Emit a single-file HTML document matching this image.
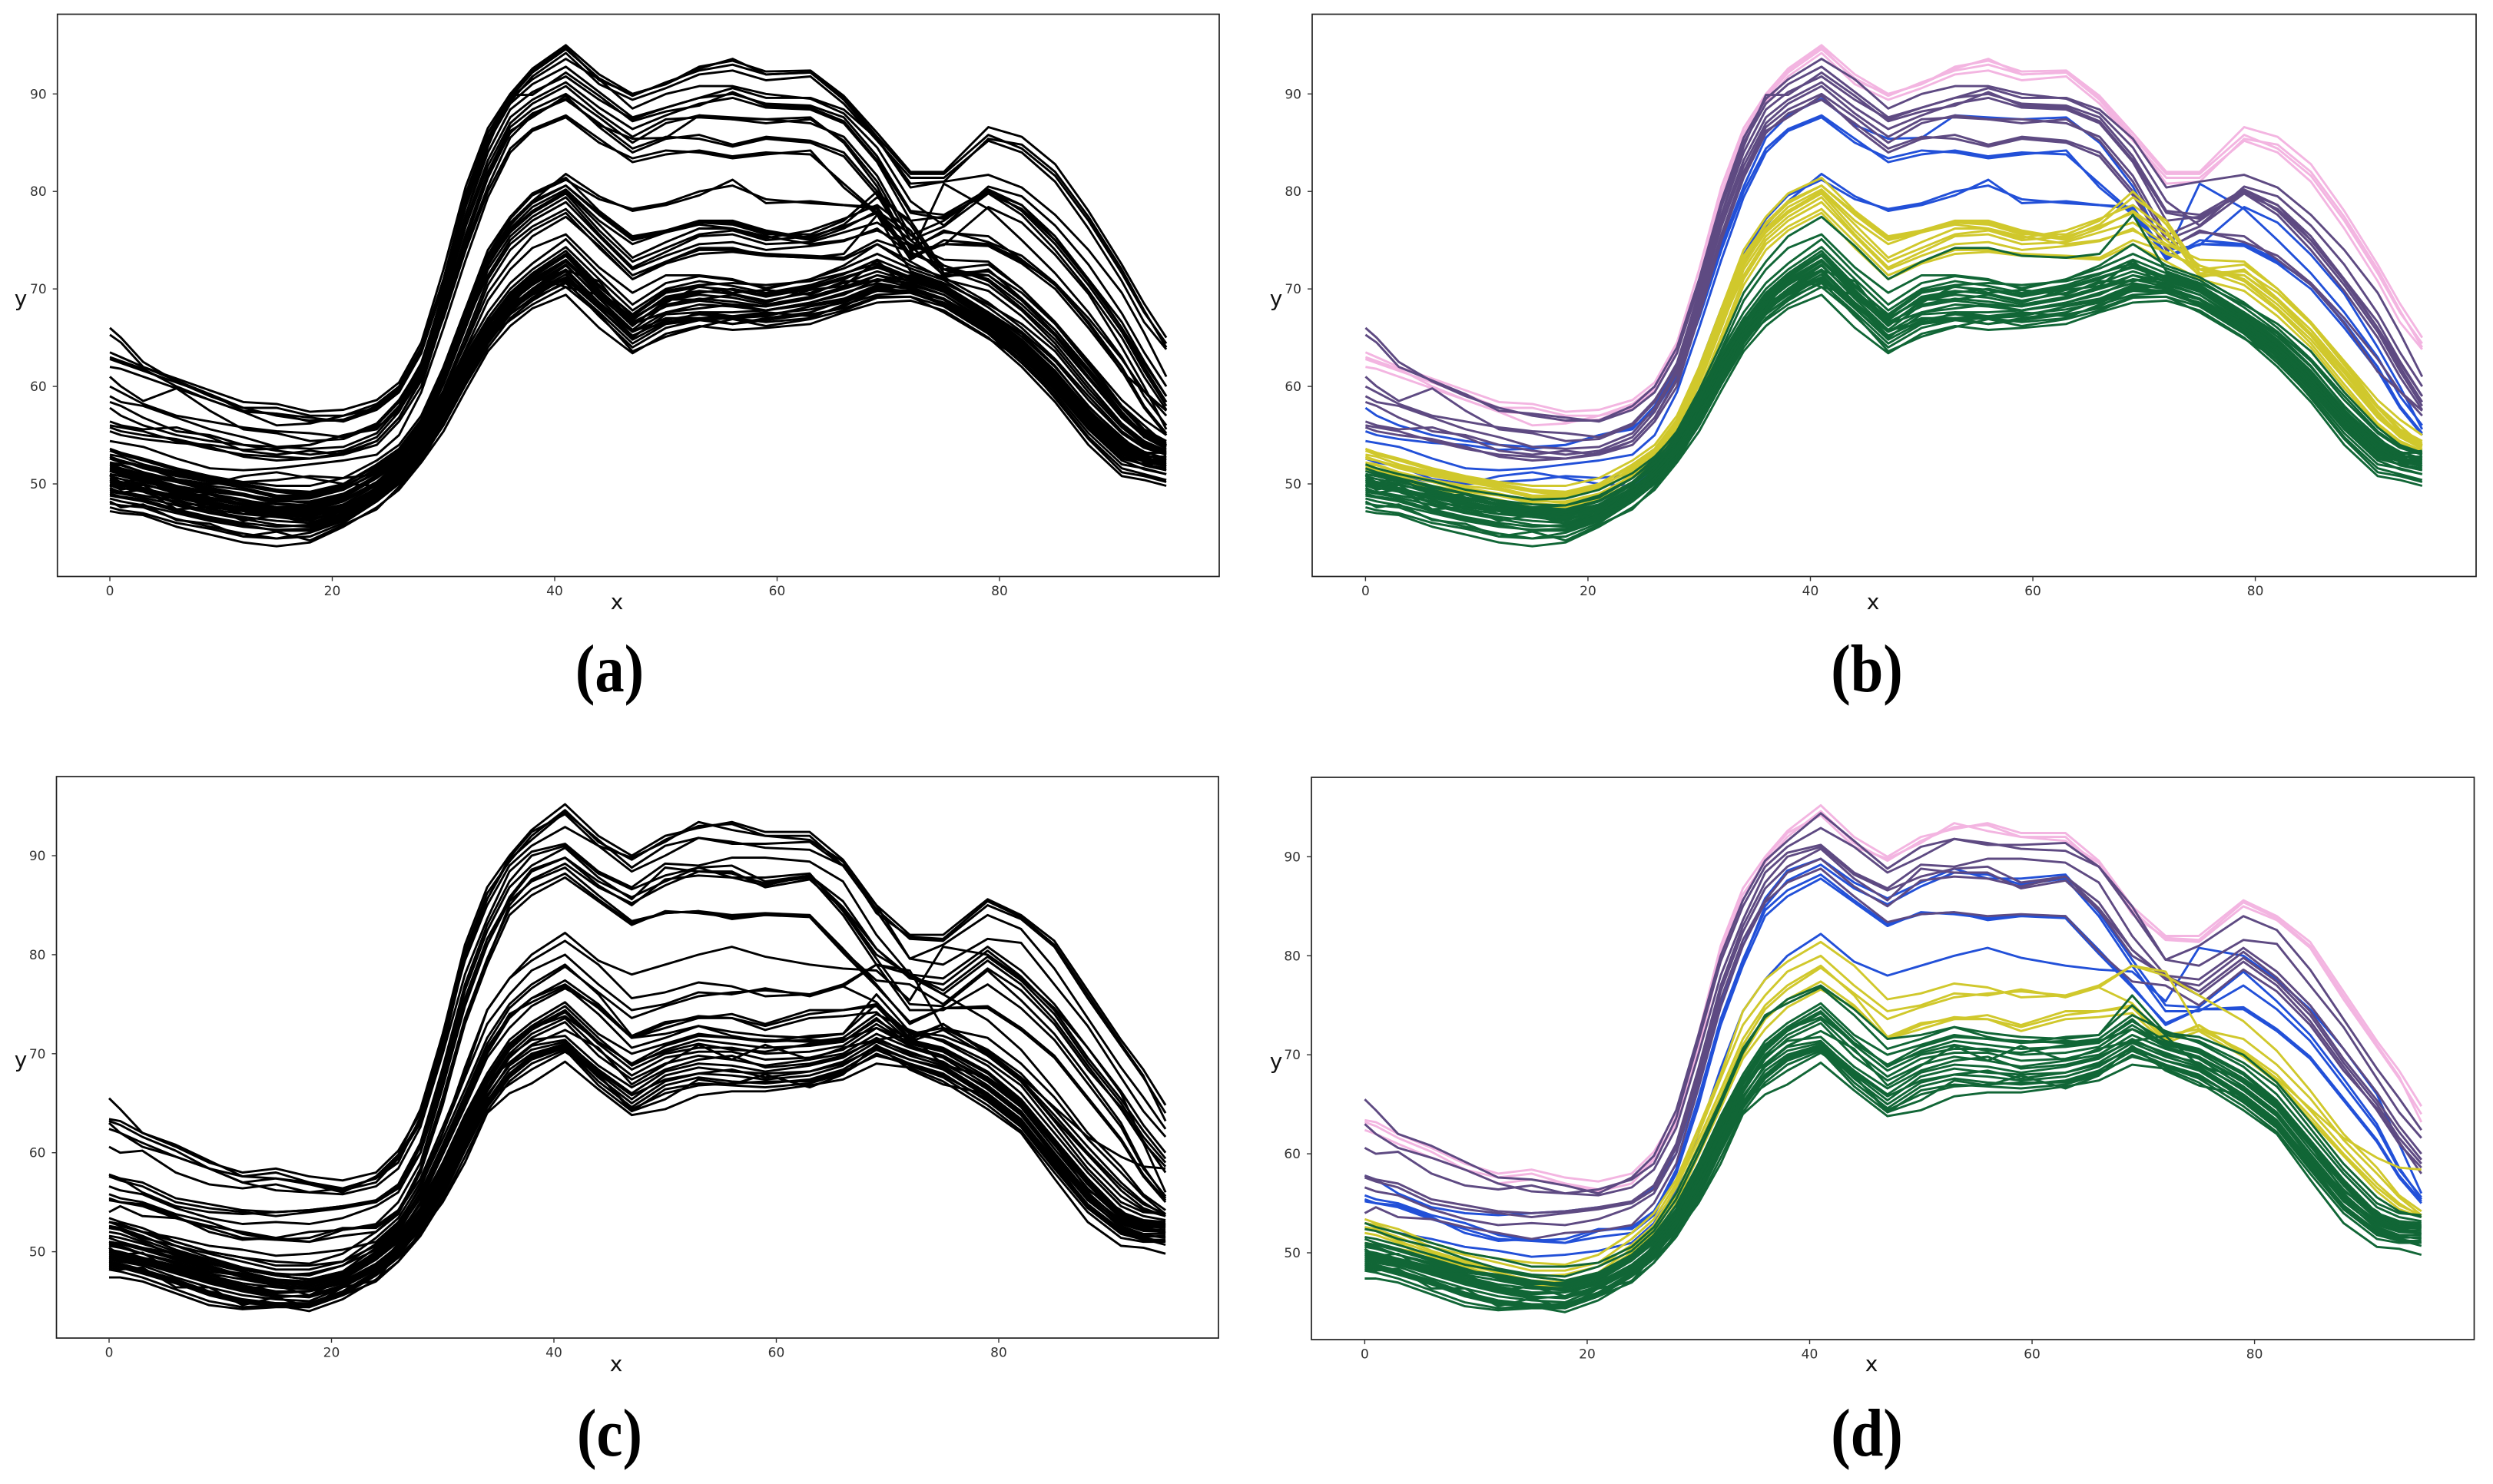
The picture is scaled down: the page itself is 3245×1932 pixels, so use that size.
<!DOCTYPE html>
<html lang="en">
<head>
<meta charset="utf-8">
<title>Clustered time series panels</title>
<style>
html,body{margin:0;padding:0;background:#fff;}
svg{display:block;}
.tick{font-family:"DejaVu Sans","Liberation Sans",sans-serif;font-size:17px;fill:#333;}
.axis-title{font-family:"DejaVu Sans","Liberation Sans",sans-serif;font-size:28px;fill:#111;}
.caption{font-family:"Liberation Serif",serif;font-weight:bold;font-size:88px;fill:#000;text-anchor:middle;}
</style>
</head>
<body>
<svg id="figure" xmlns="http://www.w3.org/2000/svg" width="3245" height="1932" viewBox="0 0 3245 1932">
<rect width="3245" height="1932" fill="#fff"/>
<g id="panel-a"></g>
<g id="panel-b"></g>
<g id="panel-c"></g>
<g id="panel-d"></g>
<text class="caption" transform="translate(793.5,900) scale(.87,1)">(a)</text>
<text class="caption" transform="translate(2430,900) scale(.87,1)">(b)</text>
<text class="caption" transform="translate(793.5,1895) scale(.87,1)">(c)</text>
<text class="caption" transform="translate(2430,1895) scale(.87,1)">(d)</text>
</svg>
<script>
const xValues=[0,1,3,6,9,12,15,18,21,24,26,28,30,32,34,36,38,41,44,47,50,53,56,59,63,66,69,72,75,79,82,85,88,91,93,95];
const xTickValues=[0,20,40,60,80];
const yTickValues=[50,60,70,80,90];

const pinkTop=[
[63.5,63,62,60.8,59.6,58.4,58.2,57.4,57.6,58.6,60.4,64.5,72,80.5,86.5,90,92.6,95,92,90,91,92.8,93.4,92.3,92.4,89.8,86,82,82,86.6,85.6,82.8,78,72.5,68.5,65],
[62.8,62.4,61.6,60.4,59.2,57.8,57.8,57,57,58.2,60,64,71,79.5,86,89.6,92.2,94.6,91.6,89.8,91.2,92.4,93,92,92.2,89.6,85.6,81.8,81.8,85.8,84.4,81.6,77,71.6,67.6,64.4],
[62,61.8,61,59.8,58.6,57.4,57.2,56.4,56.6,57.8,59.6,63.4,70.4,79,85.4,89.2,91.8,94.2,91,89.4,90.6,92,92.4,91.4,91.8,89,85.2,81.4,81.4,85.2,84,81,76.2,70.8,66.6,63.8],
[63,62.6,61.8,60,58.6,57.4,56,56.2,57,57.8,59.8,63.8,71,79.8,86,89.8,92.4,94.8,91.4,90,91,92.6,93.6,92,92.2,89.4,85.4,80.8,81,85.4,84.8,82,77.4,72,67.8,64]
];
const blueTop=[
[57.8,57,56,55,54.4,54,53.8,54,55,55.6,58,62,67.5,74.5,80.5,85.5,87.8,89.5,86.8,85.4,85.5,87.8,87.6,87.4,87.6,85,80.5,74,74.5,78.4,76.8,73.5,69.5,64,60,55.6],
[55.4,55,54.6,54.2,54,53.5,53.6,54,55,55.8,57.5,61,67,74,80,84.4,86.4,87.8,85.4,83,83.8,84.2,83.6,84,83.8,80.8,77.8,73.2,74.6,74.6,72.8,70.6,66.4,62,58,55.2],
[54.4,54.2,53.8,52.6,51.6,51.4,51.6,52,52.4,53,55,59.4,66,73,79.4,84,86.2,87.6,85,83.4,84.2,84,83.4,83.8,84.2,80.4,77.6,73.4,74.6,74.4,72.6,70,66,61.6,57.8,55],
[52.6,52.2,51.8,50.5,50,50.8,51.2,50.6,50,49.8,51.5,55,61,67,72.5,76.5,79,81.8,79.5,78,78.6,79.6,81.2,78.8,79,78.6,78.4,73.5,80.8,78.2,75,71.6,67.6,63,59,56],
[51.4,51,50.8,50.2,50,50.2,50.4,50.8,50.6,51,52.5,56,62,68,73.5,77.2,79.6,81.2,79.2,78.2,78.8,80,80.6,79.2,78.8,78.6,78.2,73,75,74.6,73,70.4,66.6,62,58,55]
];
const purpleTop=[
[66,65,62.5,60.5,59,57.8,57,56.5,56.5,58,60,64,71,79,85.5,89.5,91.5,93.6,91.5,88.5,90,90.8,90.8,90,89.5,88,84.5,79,76.5,80.5,79.5,76.5,72.5,67.5,63.5,60],
[65.3,64.5,62,60.6,59.2,57.5,57.2,56.8,56.4,57.6,59.4,63.4,70.4,78.4,85,89,91,92.8,90.2,87.6,88.6,89.6,90.6,89.6,89.6,88.4,85.4,80.4,81,81.7,80.4,77.6,74,69.6,65.5,61],
[61,60,58.5,59.8,57.5,55.6,55.2,54.4,54.6,56,58.4,62.4,69.6,77.6,84,88.4,90.2,91.8,89.4,87.4,88.6,89.6,90,89,88.8,87.6,83.6,78,77.6,80.2,78.6,75.4,71,66.6,62.6,59],
[60,59.4,58.2,57,56.4,55.8,55.4,55.2,54.8,56.2,58.6,62.2,69.8,77.6,84.6,89.9,89.9,92.2,89.8,87.2,88.2,88.8,90.2,88.8,88.6,87.2,83.2,77.8,77.2,80,78.6,75,71,66,62.4,59],
[59,58.4,58,56.8,55.6,54.8,53.8,53.6,53.8,55.2,57.8,61.8,69,77,83.2,87.6,89.4,91.2,88.6,86.4,87.8,89,89.6,88.6,88.4,87,83,77,77.4,79.8,78.2,75,70.8,66,62,58.4],
[58.4,58,56.8,55.4,55,54,53.4,53,53.4,54.8,57.4,61.4,68.6,76.4,82.6,87,89,90.8,88,85.6,87.4,87.6,87.4,87.4,87,85.6,81.6,75.5,77,80.2,78,74.6,70.4,65.6,61.6,58],
[56.4,56,55.6,55.8,54.8,53.4,53,53.4,53,54.4,56.8,60.8,68,75.6,82,86.6,88.4,90,87.6,85,87,87.8,87.4,87,87.4,85.2,81,75,76.4,79.8,77.6,74,69.8,65,61,57.6],
[56,55.8,55.4,54.4,53.6,53,52.8,52.6,53,54,56.4,60,67.2,75,81.4,86,88,89.4,87,84.4,85.6,85.4,84.6,85.4,85,83.6,79.6,74.2,75.8,75.4,73,70.4,66.5,61.5,59.5,57],
[55.8,55.4,55,54.6,53.8,52.8,52.4,52.6,53.2,54.4,56.8,60.6,67.6,75.4,81.6,86.2,87.6,89.8,86.6,84,85.4,85.8,84.8,85.6,85.2,84,80,74,76,74.8,73.4,70.6,67,62.8,59.5,57.5]
];
const yellowTop=[
[53.6,53.2,52.6,51.6,50.8,50.2,49.8,49.8,50.6,52.4,54,57,62,68,74,77.4,79.8,81.4,78,75.4,76,77,77,76,75.2,76.6,79.4,77,72,72.5,70,66.5,62.5,58,56,54],
[53,52.8,52,51.2,50.6,50,49.4,49.2,50,52,53.6,56.6,61.6,67.6,73.4,76.6,78.8,80.6,77.6,75,75.8,76.8,76.6,75.6,75.6,77,80,76.6,71.6,71.8,69.6,66.4,62.2,58,55.6,54.4],
[52.6,52.4,51.6,50.8,50.2,49.6,48.8,48.8,49.6,51.6,53.2,56.2,61,67,73,76.2,78.4,80.2,77,74.6,75.8,76.6,76.2,75.2,76,77.2,78.6,76,71.2,72,69,65.8,61.6,57.4,55,53.8],
[52.2,52,51.2,50.4,49.8,49.4,48.6,48.6,49.4,51.2,52.8,55.8,60.6,66.6,72.6,75.8,77.8,79.8,76,72.8,74.2,75.6,76,75,75.4,76.4,77.8,75,72.4,71,68.4,65.2,61,57,54.8,53.6],
[51.8,51.6,51,50.2,49.6,49,48.2,48.2,49,50.8,52.4,55.4,60.2,66,72,75.4,77.4,79.4,75.6,72.2,73.8,75.4,75.6,74.6,74.8,75.8,76.8,74.6,73,72.8,70,66.6,62.6,58.6,56.6,55],
[52,51.9,51.2,50.2,49.3,48.9,48.4,48,48.9,50.9,52.6,55.5,60.4,66.4,71.4,75,77,78.9,75.4,72,73.4,74.6,74.8,74,74.4,74.9,76.2,73.6,72.4,70.8,68,64.8,60.8,56.8,54.9,53.9],
[51.6,51.4,50.8,49.8,49.2,48.8,48,47.8,48.6,50.6,52.2,55,59.6,65.2,71,74.6,76.4,78.2,74.8,71.4,72.8,74,74,73.6,73.4,73.2,75,73.8,72,70.4,67.8,64.4,60.2,56.2,54.4,53.4],
[51.4,51.2,50.4,49.4,49,48.4,47.6,47.6,48.4,50.2,51.8,54.6,59.2,64.6,70.4,74,76,77.8,74.2,71,72.6,73.6,73.8,73.4,73.2,73,74.6,72.8,71,69.8,67.2,64,59.8,56,54.2,53.2],
[52.8,52.4,51.8,51,50.4,49.8,49.2,48.8,49.8,51.4,53,56,60.8,66.4,72.4,76,78,80,76.6,73.2,74.8,76.2,76.2,75.4,74.6,75,76,74.4,71.4,71.4,68.8,65.4,61.4,57.2,55.2,54],
[53.4,53,52.4,51.4,50.6,50,49.4,49,50,51.8,53.4,56.4,61.4,67.4,73,76.8,79,80.6,77.8,75.2,76,76.8,76.8,75.8,75,76.2,78,75.6,72,71.4,69,65.8,61.8,57.8,55.4,54.2]
];
const greenTop=[
[52.0,51.6,51.0,50.3,49.4,48.9,48.4,48.5,49.4,51.1,52.8,55.2,59.2,63.6,67.6,70.6,72.6,75.1,71.6,68.4,70.6,71.3,70.9,70.1,71.0,72.1,73.6,72.1,70.9,68.1,65.6,62.6,58.6,55.2,53.7,53.0],
[51.3,51.0,50.6,49.6,49.0,48.3,47.9,47.8,48.8,50.6,52.4,54.8,58.8,63.2,67.0,70.0,72.0,74.3,71.0,67.8,70.0,70.8,70.3,69.6,70.4,71.5,73.0,71.6,70.4,67.6,65.1,62.0,58.0,54.6,53.3,52.6],
[50.6,50.2,49.9,49.2,48.4,47.8,47.4,47.4,48.3,50.2,52.0,54.5,58.4,62.8,66.6,69.6,71.6,73.9,70.4,67.2,69.6,70.2,69.9,69.2,70.0,71.0,72.4,71.2,70.0,67.2,64.6,61.4,57.4,54.2,53.0,52.4],
[50.0,49.8,49.5,48.8,48.1,47.6,47.2,47.0,47.9,49.9,51.7,54.1,58.0,62.4,66.2,69.2,71.2,73.4,69.9,66.8,69.2,69.8,69.5,68.8,69.6,70.6,71.8,70.8,69.7,66.8,64.2,61.0,57.0,53.8,52.7,52.2],
[50.8,50.5,50.0,49.0,48.2,47.5,47.0,46.8,47.7,49.6,51.4,53.9,57.8,62.2,65.8,68.8,70.8,72.9,69.4,66.2,68.8,69.4,69.1,68.4,69.2,70.2,71.4,70.4,69.4,66.4,63.8,60.6,56.6,53.4,52.5,52.0],
[49.4,49.2,48.8,48.2,47.6,47.2,46.9,46.6,47.5,49.4,51.2,53.7,57.6,62.0,65.6,68.6,70.4,72.5,69.0,65.8,68.4,69.0,68.7,68.2,69.0,70.0,71.0,70.2,69.0,66.2,63.5,60.2,56.2,53.0,52.3,51.8],
[50.2,49.9,49.3,48.4,47.4,46.9,46.6,46.4,47.2,49.2,51.0,53.5,57.2,61.6,65.4,68.2,70.0,72.0,68.6,65.6,67.6,68.4,68.2,67.8,68.6,69.6,70.6,70.0,68.9,65.9,63.2,59.9,55.9,52.7,52.0,51.6],
[48.5,48.2,47.8,47.0,46.2,45.6,45.3,45.4,46.6,48.6,50.5,53.0,56.6,60.8,64.6,67.6,69.6,71.5,68.0,64.8,66.6,67.0,67.2,67.4,67.9,68.6,69.8,69.6,68.6,65.8,63.0,59.6,55.6,52.4,51.5,51.0],
[47.6,47.3,47.0,46.0,45.4,44.6,44.4,44.6,46.0,48.2,50.0,52.6,56.0,60.2,64.0,67.0,68.8,70.8,67.2,64.0,66.0,66.8,66.4,66.8,67.4,68.0,69.2,69.2,68.2,65.4,62.4,59.0,54.8,51.6,51.0,50.4],
[47.2,47.0,46.8,45.6,44.8,44.0,43.6,44.0,45.6,47.6,49.4,52.2,55.4,59.6,63.6,66.2,68.0,69.4,66.0,63.4,65.4,66.2,65.8,66.0,66.4,67.6,68.6,68.8,67.8,65.0,62.0,58.4,54.0,50.8,50.4,49.8],
[49.0,48.7,48.4,47.4,46.6,46.0,45.6,45.8,47.0,49.0,50.8,53.2,57.0,61.2,65.0,67.8,69.8,71.8,68.4,65.2,66.8,67.4,67.0,67.2,68.2,68.8,70.2,70.2,68.9,66.2,63.3,60.0,56.0,52.8,52.0,51.4],
[48.0,47.8,47.6,46.4,45.6,44.9,44.4,45.0,46.2,48.2,50.1,52.8,56.4,60.6,64.4,67.4,69.0,70.6,67.6,64.4,66.4,66.8,67.0,66.6,67.0,68.4,69.4,69.6,68.4,65.6,62.7,59.3,55.2,52.0,51.6,51.0],
[48.8,48.6,48.2,47.2,46.4,45.8,45.2,45.2,46.4,48.4,50.3,53.0,56.8,61.0,64.8,67.8,69.4,71.0,68.0,65.0,67.4,67.6,67.6,67.8,68.4,69.0,70.4,70.0,69.0,66.0,63.2,59.8,55.8,52.6,52.0,52.2],
[49.8,49.6,49.2,48.0,47.2,46.6,46.2,46.0,47.0,49.0,51.0,53.4,57.4,61.6,65.2,68.0,70.0,72.4,69.2,66.4,67.6,68.0,68.4,67.8,68.6,69.4,71.0,70.6,69.4,66.6,64.0,60.8,56.8,53.6,52.6,52.4],
[50.4,50.2,49.6,48.6,47.8,47.2,46.6,46.2,47.4,49.4,51.4,53.6,57.6,62.0,65.6,68.4,70.6,72.8,69.6,66.6,68.2,68.8,68.4,68.2,69.2,70.0,71.4,70.8,69.8,67.0,64.4,61.2,57.2,54.0,52.8,52.8],
[51.0,50.8,50.4,49.2,48.6,48.0,47.6,47.4,48.2,50.0,51.8,54.4,58.2,62.6,66.4,69.4,71.4,73.6,70.2,67.4,69.8,70.4,70.6,70.4,70.8,71.6,72.6,71.2,70.0,67.4,64.8,61.6,57.6,54.4,53.2,53.2],
[49.2,49.0,48.6,47.8,47.0,46.4,45.8,45.6,46.8,48.8,50.6,53.2,57.0,61.4,65.0,68.0,69.6,71.2,68.2,65.6,67.0,67.0,66.4,67.0,67.6,68.8,70.0,69.8,69.0,66.4,63.6,60.4,56.4,53.2,52.3,52.6],
[50.4,50.0,49.4,48.6,48.0,47.4,46.8,46.6,47.6,49.6,51.2,53.8,57.8,62.4,66.2,69.0,71.0,73.0,69.8,67.0,69.0,69.6,70.0,69.4,70.2,71.2,72.2,71.0,69.8,67.0,64.4,61.2,57.2,54.0,53.0,53.4],
[51.6,51.2,50.6,49.8,49.0,48.2,47.6,47.8,48.6,50.6,52.6,55.4,59.6,64.4,69.6,72.8,75.4,77.4,74.4,71.0,72.8,74.2,74.2,73.4,73.2,73.6,77.6,71.8,70.6,68.4,66.4,63.6,59.4,55.8,54.0,53.2],
[51.0,50.8,50.2,49.4,48.6,47.8,47.2,47.2,48.2,50.2,52.2,55.0,59.0,63.8,68.8,72.0,74.2,75.6,72.2,69.6,71.4,71.4,71.0,70.0,71.0,72.4,74.6,72.4,71.2,68.6,66,62.8,59,55.4,53.8,53],
[48.2,47.6,47.9,46.3,45.9,44.6,45.1,44.2,45.8,47.4,49.7,52.3,56.2,60.4,64.9,66.8,68.4,70.2,67.4,63.6,65.1,66.1,66.9,66.2,66.9,67.8,69.1,69.2,67.6,64.9,62.8,58.8,54.6,51.2,50.8,50.2],
[49.6,49.1,49.4,47.4,47.6,46.2,46.8,45.9,47.3,48.2,50.6,53.6,57.2,60.9,65.4,67.4,69.1,71.2,68.6,65.8,66.4,67.6,67.2,67.6,67.2,68.2,69.9,70.4,68.2,66.6,63.9,60.1,56.6,53.1,51.9,51.4],
[50.9,50.1,50.6,48.8,48.9,47.9,47.3,47.1,47.9,49.2,51.6,54.7,58.6,63.1,66.8,68.6,70.6,71.9,70.8,66.4,68.6,70.3,69.6,69.9,69.4,70.8,70.8,71.4,70.2,67.6,65.4,62.1,57.9,54.8,52.9,51.8],
[49.9,49.4,49.9,47.9,47.9,46.9,47.4,46.8,47.1,49.7,50.9,53.2,57.9,62.6,66.1,67.9,71.3,70.2,69.4,67.0,68.9,68.9,69.4,68.6,69.9,70.3,72.9,69.8,68.9,65.6,63.9,60.7,56.9,53.9,52.2,52.9]
];

const pinkBottom=[
[63.4,63.2,62,60.6,59,58,58.4,57.6,57.2,58,60.2,64,72,81,86.8,90,92.6,95.2,92,90,92,92.8,93.4,92.4,92.4,89.6,85,82,82,85.6,84,81.4,76.4,71.4,68.4,64.8],
[63.2,62.8,61.6,60.2,58.4,57.6,58,57,56.4,57.4,59.6,63.4,71,80.4,86.2,89.4,92,94.6,91.4,89.6,91.6,93,93.2,92,92,89,84.6,81.6,81.4,85,83.6,80.8,75.6,70.8,67.6,64],
[62.4,62,61,59.6,58.4,57,57.4,57,56.2,57,59.4,63,70.4,79.8,85.6,89.8,92.4,94.2,91,89.8,91.4,93.4,92.6,92,91.6,89.4,84.2,81.8,81.6,85.4,83.8,81,76,71,67.8,63.2]
];
const blueBottom=[
[57.8,57.4,56,54.6,54,53.8,54,54.2,54.6,55,56.6,60,67,75,81,85.8,88.6,89.8,87.4,85.8,87.4,88.8,87.8,87.8,88.2,84.4,79.6,75,74.8,78.4,75.4,72,67.6,63,58.6,55.4],
[55.8,55.4,55,53.8,53,51.8,51.2,51.4,52.4,52.4,54,58.4,65.6,73.6,79.6,84.6,86.6,88.2,85.6,83.2,84.2,84.4,83.6,84,84,80.6,77,73,74.6,74.8,72.6,69.8,65.6,61.4,57.8,55.2],
[55.2,55,54.8,53.6,52,51.2,51.4,51,51.6,52,53.8,58,65,73,79,84,86,87.8,85.4,83,84.4,84.2,83.8,84,83.8,80.2,76.8,73.2,74.6,74.6,72.4,69.6,65.4,61.2,57.6,55],
[53,52.8,52,51.4,50.6,50.2,49.6,49.8,50.2,51,53,56.4,62,68.6,74.4,77.6,80,82.2,79.4,78,79,80,80.8,79.8,79,78.6,78.4,75.4,80.8,80,77.6,74.6,70.6,66,61,56],
[55.4,55,54.6,53.4,52.4,51.4,51.2,51,52.2,52.6,54.2,58,64.8,73.2,79.4,85,87.6,89.2,86.8,85.2,87,88.4,88.2,87.2,87.8,84,79,74.4,74.4,77,74.6,71.4,67,62.6,58.4,55.6]
];
const purpleBottom=[
[65.5,64.4,62,60.8,59.2,57.6,57.4,56.8,56,57.6,59.8,64.4,72,80,85.6,89.6,91.6,94.4,91.6,88.8,91,91.8,91.2,91.2,91.4,89,85,79.6,81,84,82.6,78.6,73.6,68.6,65.6,62.4],
[63,62,60.6,59.6,58.4,57,56.2,56,56.4,57.4,59,63.6,71.4,79.4,85,89,91,92.9,91,88.4,90,91.8,91.4,90.8,90.6,89,84.4,79.6,79,81.6,81.2,77,72.8,67.6,64.2,61.6],
[60.6,60,60.2,58,56.8,56.4,56.8,56,55.8,56.6,58.4,62.6,70,78,83.6,88.4,90.4,91.2,88.4,86.8,89.2,89,89.8,89.8,89.4,87.4,82,78,77.6,80.8,78.4,75,70.6,66.2,62.8,60],
[57.8,57.4,57,55.4,54.8,54.2,54,54.2,54.6,55.2,56.8,61,68.6,77,83,87.4,90,91,88.2,86.6,88,88.8,89,87.4,88,85.4,80.6,77.6,77,80.4,77.8,74.4,69.6,65.4,62.2,59.4],
[57.6,57.2,56.6,55,54.4,54,53.6,54,54.4,55,56.4,60.6,68,76.4,82.4,86.8,89,90.8,87.8,85.6,88.8,88.4,88.4,86.8,87.6,84.6,80,78,76.4,79.8,77.4,74,69.2,65,61.6,59],
[56.6,56.2,55.8,54.4,53.4,52.8,53,52.8,53.4,54.6,56,60,67.4,75.6,81.6,85.6,88.4,89.8,87,85,87.6,88,87.8,87,88,84.8,80.6,77.8,76,79.4,77,73.4,68.8,64.4,61,58.6],
[54,54.6,53.6,53.4,52.6,52,51.4,52,52.2,52.8,55,59,66.6,74.8,81,85.4,87.4,88.8,86,83.4,84.2,84.4,84,84.2,84,80.4,77.4,77,75,78.6,76.4,73,68.4,64.6,61.2,58]
];
const yellowBottom=[
[53.4,53,52.4,51,50,49.4,49,48.8,49.8,52,54,57.4,62.6,68,74.4,77.6,79.4,81.4,79,75.6,76.2,77.2,76.8,75.8,76,77,79,78,76,73.4,70.4,66.4,62,58.6,55.8,54.2],
[53,52.8,52,50.6,49.8,49,48.2,48.2,49,51.4,53.4,57,62,67.6,73,76,78.4,80,77,74.4,75,76.2,76,76.6,75.8,76.8,79,78.4,72.6,71.6,69,65.6,61.4,58,55.6,53.8],
[52.6,52.4,51.6,50.2,49.2,48.4,47.6,47.8,48.6,50.8,52.8,56.6,61.4,66.4,71.6,75,77,79,76,71.8,73.2,73.6,74,73,74.4,74.4,75,72,72.6,70.4,68,64.4,60.6,57,55,53.6],
[51,50.8,50.4,49.8,48.8,48,47.2,47,47.8,50,52,55.6,60.4,65,70,73.6,75.6,77.4,75,71.6,73,73.8,73.6,72.8,74,74.4,74.8,71.4,73,70.2,67.6,64.6,61.6,59.6,58.6,58.4],
[52,51.8,51,49.6,48.6,47.6,46.8,46.6,47.6,49.6,51.6,55,59.8,64.6,69.6,72.6,74.8,76.6,74.8,71.6,72.6,73.6,73.6,72.4,73.6,73.8,74.2,71.2,72.4,69.8,67.2,63.4,59.8,56.2,54.4,53.6],
[52.4,52.2,51.2,50,49,48.2,47.6,47.2,48,50.4,52.4,56,60.8,65.8,71,74.6,76.6,78.8,76.2,73.6,74.8,75.8,76.2,76.4,76,76.8,75.2,71.6,73,70,67.4,63.8,60,56.6,54.8,53.8]
];
const greenBottom=[
[53.0,52.6,52.0,51.0,50.0,49.4,48.6,48.6,49.0,50.6,52.6,56.0,60.6,65.4,70.6,73.8,75.6,77.0,74.6,71.6,72.0,72.8,72.2,71.8,71.6,72.0,75.0,72.0,71.4,69.2,66.8,62.6,58.4,55.0,54.0,53.8],
[52.4,52.2,51.4,50.6,49.4,48.4,47.8,47.6,48.6,50.2,52.2,55.4,60.0,65.0,70.2,74.0,75.2,76.8,74.0,70.6,71.6,72.8,71.8,71.2,71.8,72.0,76.0,72.2,71.8,70.0,67.2,63.2,59.0,55.6,54.2,53.6],
[51.6,51.4,50.8,49.8,48.8,48.2,47.6,47.2,48.0,49.8,51.8,54.8,59.0,63.8,68.0,71.4,73.2,75.2,72.0,70.0,71.0,72.0,71.6,71.4,71.2,71.6,74.0,72.4,71.2,68.8,66.0,62.0,58.0,54.6,53.6,53.2],
[51.0,50.8,50.2,49.2,48.2,47.8,47.2,46.8,47.6,49.4,51.4,54.2,58.4,63.4,67.6,71.0,72.8,74.8,71.6,68.8,70.4,71.4,71.0,70.6,70.8,71.2,73.4,71.4,70.6,68.2,65.4,61.4,57.4,54.0,53.2,53.0],
[50.6,50.4,49.8,48.8,47.8,47.2,46.6,46.4,47.2,49.2,51.0,53.8,58.0,62.8,67.0,70.4,72.4,74.2,71.0,68.4,70.0,70.6,70.6,70.0,70.2,70.8,73.0,71.0,70.2,67.6,65.0,61.0,57.0,53.6,52.8,52.6],
[50.2,50.0,49.4,48.6,47.6,46.8,46.4,46.2,47.0,48.8,50.6,53.4,57.6,62.4,66.6,70.0,72.0,73.6,70.4,67.8,69.6,70.2,70.2,69.4,69.6,70.4,72.6,70.8,69.8,67.2,64.6,60.4,56.4,53.4,52.6,52.4],
[49.8,49.6,49.2,48.2,47.2,46.4,45.8,46.0,46.8,48.6,50.4,53.0,57.2,62.0,66.2,69.6,71.6,73.2,69.8,67.4,69.0,69.8,69.4,68.8,69.4,70.0,72.0,70.6,69.6,66.8,64.2,60.0,56.0,53.0,52.3,52.2],
[49.4,49.2,48.8,47.8,46.8,46.0,45.4,45.6,46.6,48.4,50.2,52.8,56.8,61.6,65.8,68.8,70.4,71.2,68.4,66.0,68.2,69.0,68.8,68.2,68.8,69.6,71.6,70.0,69.2,66.4,63.8,59.6,55.6,52.8,52.1,52.0],
[49.2,49.0,48.6,47.4,46.4,45.6,45.2,45.0,46.4,48.2,50.0,52.6,56.4,61.0,65.2,68.4,70.0,71.0,68.0,65.4,67.8,68.6,68.2,68.0,68.2,69.2,71.2,69.8,68.8,66.0,63.4,59.2,55.2,52.6,51.8,51.8],
[49.0,48.8,48.2,47.2,46.0,45.2,44.8,44.8,46.0,48.0,49.8,52.2,56.0,60.6,65.0,68.0,69.8,70.8,67.6,65.0,67.2,68.0,67.8,67.4,67.8,68.8,70.8,69.4,68.4,65.6,63.0,58.8,54.8,52.2,51.5,51.6],
[48.6,48.4,47.8,46.8,45.6,44.8,44.6,44.4,45.6,47.6,49.4,51.8,55.6,60.2,64.6,67.6,69.4,70.6,67.2,64.6,66.8,67.6,67.2,67.0,67.4,68.4,70.4,69.0,68.0,65.2,62.6,58.4,54.4,51.8,51.2,51.2],
[48.2,48.0,47.4,46.2,45.0,44.4,44.6,44.0,45.2,47.2,49.0,51.6,55.2,59.6,64.2,67.2,69.0,70.4,66.8,64.2,66.4,67.0,66.8,66.6,67.0,68.0,70.0,68.8,67.6,64.8,62.2,58.0,54.0,51.4,51.0,51.0],
[47.4,47.4,47.0,45.8,44.6,44.2,44.4,44.4,45.6,47.0,49.0,52.0,55.0,59.0,64.0,66.0,67.0,69.2,66.4,63.8,64.4,65.8,66.2,66.2,66.8,67.4,69.0,68.6,67.2,64.4,62.0,57.4,53.0,50.6,50.4,49.8],
[50.8,50.6,49.8,49.0,48.0,47.6,47.0,46.6,47.4,49.2,51.2,54.0,58.2,63.0,67.2,70.6,72.6,74.4,71.2,69.0,70.2,71.0,70.4,70.2,71.0,71.4,72.6,71.2,70.4,68.0,65.2,61.2,57.2,53.8,53.0,52.8],
[50.0,49.8,49.4,48.4,47.4,46.6,46.0,46.0,46.8,48.6,50.4,53.2,57.4,62.2,66.4,69.8,71.4,71.8,68.8,66.6,68.4,69.4,69.8,68.6,69.0,69.8,71.4,70.2,69.0,66.6,64.0,59.8,55.8,53.2,52.4,52.6],
[49.6,49.4,49.0,48.0,47.0,46.2,45.6,45.4,46.4,48.2,50.2,52.8,56.6,61.4,65.6,69.0,70.8,71.4,68.2,65.8,67.4,68.0,68.4,67.6,68.2,69.0,70.6,69.4,68.6,65.8,63.2,59.4,55.4,52.4,51.7,51.4],
[51.4,51.0,50.4,49.4,48.4,47.4,46.8,47.0,47.8,49.6,51.6,54.4,58.6,63.2,67.4,70.8,72.6,73.8,71.2,69.0,70.8,71.8,71.6,71.2,71.4,71.2,73.6,70.8,69.8,67.4,64.8,60.8,56.8,53.4,52.6,52.8],
[48.8,48.6,48.0,47.0,45.8,45.0,44.8,44.6,45.8,47.8,49.6,52.4,56.2,60.8,64.8,67.8,69.6,70.8,67.8,64.4,66.0,66.8,67.0,67.2,67.2,68.2,69.8,69.0,67.8,65.4,62.8,58.6,54.6,52.0,51.4,51.0],
[50.4,49.7,49.9,47.9,47.9,46.2,46.6,45.6,47.2,48.3,50.8,53.6,58.4,61.9,67.2,69.1,70.9,72.4,70.6,66.9,68.9,70.9,69.4,70.9,69.4,70.6,71.4,71.9,68.9,67.6,65.2,60.9,56.2,54.2,52.3,51.9],
[48.4,48.2,48.4,46.4,46.4,44.6,45.4,44.4,46.4,47.1,49.9,52.9,56.9,60.9,65.4,66.9,68.4,70.2,67.9,64.2,65.4,67.4,66.9,67.9,66.6,67.9,70.9,68.4,66.9,65.9,62.9,59.1,54.6,51.9,51.3,50.7]
];

const SVGNS='http://www.w3.org/2000/svg';
const topGroups=[['pink',pinkTop],['blue',blueTop],['purple',purpleTop],['yellow',yellowTop],['green',greenTop]];
const bottomGroups=[['pink',pinkBottom],['blue',blueBottom],['purple',purpleBottom],['yellow',yellowBottom],['green',greenBottom]];
const palette={pink:'#f3b5e1',blue:'#2250d8',purple:'#5e4a82',yellow:'#d0c82c',green:'#116636'};

const panels=[
 {id:'panel-a',left:74.7,right:1587,top:18.5,bottom:750.5,x0:143,x80:1301,y50:630,y90:122.3,groups:topGroups,colored:false,xlx:803,xly:793,ylx:27,yly:393},
 {id:'panel-b',left:1708,right:3223,top:18.5,bottom:750.5,x0:1777.4,x80:2935.6,y50:630,y90:122.3,groups:topGroups,colored:true,xlx:2438,xly:793,ylx:1661,yly:393},
 {id:'panel-c',left:73.5,right:1586,top:1011,bottom:1742,x0:142,x80:1300,y50:1629.6,y90:1114,groups:bottomGroups,colored:false,xlx:802,xly:1785,ylx:27,yly:1384},
 {id:'panel-d',left:1707,right:3220.5,top:1012,bottom:1744,x0:1776.4,x80:2934.6,y50:1631,y90:1115.4,groups:bottomGroups,colored:true,xlx:2436,xly:1785,ylx:1661,yly:1386}
];

function xAxis(p){return function(v){return p.x0+v*(p.x80-p.x0)/80;};}
function yAxis(p){return function(v){return p.y50+(v-50)*(p.y90-p.y50)/40;};}

panels.forEach(function(p){
  const root=document.getElementById(p.id);
  const sx=xAxis(p), sy=yAxis(p);

  p.groups.forEach(function(group){
    const groupName=group[0];
    group[1].forEach(function(series){
      const line=document.createElementNS(SVGNS,'polyline');
      
      
      line.setAttribute('fill','none');
      line.setAttribute('stroke',p.colored?palette[groupName]:'#000');
      line.setAttribute('stroke-width','2.9');
      line.setAttribute('stroke-linejoin','round');
      line.setAttribute('points',series.map(function(v,i){return sx(xValues[i]).toFixed(1)+','+sy(v).toFixed(1);}).join(' '));
      root.appendChild(line);
    });
  });

  const frame=document.createElementNS(SVGNS,'rect');
  
  
  frame.setAttribute('x',p.left);
  frame.setAttribute('y',p.top);
  frame.setAttribute('width',p.right-p.left);
  frame.setAttribute('height',p.bottom-p.top);
  frame.setAttribute('fill','none');
  frame.setAttribute('stroke','#222');
  frame.setAttribute('stroke-width','1.7');
  root.appendChild(frame);

  xTickValues.forEach(function(v){
    const mark=document.createElementNS(SVGNS,'line');
    
    
    mark.setAttribute('x1',sx(v));
    mark.setAttribute('x2',sx(v));
    mark.setAttribute('y1',p.bottom);
    mark.setAttribute('y2',p.bottom+6);
    mark.setAttribute('stroke','#333');
    mark.setAttribute('stroke-width','1.4');
    root.appendChild(mark);
    const label=document.createElementNS(SVGNS,'text');
    
    
    label.setAttribute('class','tick');
    label.setAttribute('x',sx(v));
    label.setAttribute('y',p.bottom+24.5);
    label.setAttribute('text-anchor','middle');
    label.textContent=String(v);
    root.appendChild(label);
  });

  yTickValues.forEach(function(v){
    const mark=document.createElementNS(SVGNS,'line');
    
    
    mark.setAttribute('x1',p.left-6);
    mark.setAttribute('x2',p.left);
    mark.setAttribute('y1',sy(v));
    mark.setAttribute('y2',sy(v));
    mark.setAttribute('stroke','#333');
    mark.setAttribute('stroke-width','1.4');
    root.appendChild(mark);
    const label=document.createElementNS(SVGNS,'text');
    
    
    label.setAttribute('class','tick');
    label.setAttribute('x',p.left-14);
    label.setAttribute('y',sy(v)+6);
    label.setAttribute('text-anchor','end');
    label.textContent=String(v);
    root.appendChild(label);
  });

  const xTitle=document.createElementNS(SVGNS,'text');
  
  
  xTitle.setAttribute('class','axis-title');
  xTitle.setAttribute('x',p.xlx);
  xTitle.setAttribute('y',p.xly);
  xTitle.setAttribute('text-anchor','middle');
  xTitle.textContent='x';
  root.appendChild(xTitle);

  const yTitle=document.createElementNS(SVGNS,'text');
  
  
  yTitle.setAttribute('class','axis-title');
  yTitle.setAttribute('x',p.ylx);
  yTitle.setAttribute('y',p.yly+5);
  yTitle.setAttribute('text-anchor','middle');
  yTitle.textContent='y';
  root.appendChild(yTitle);
});
</script>
</body>
</html>
